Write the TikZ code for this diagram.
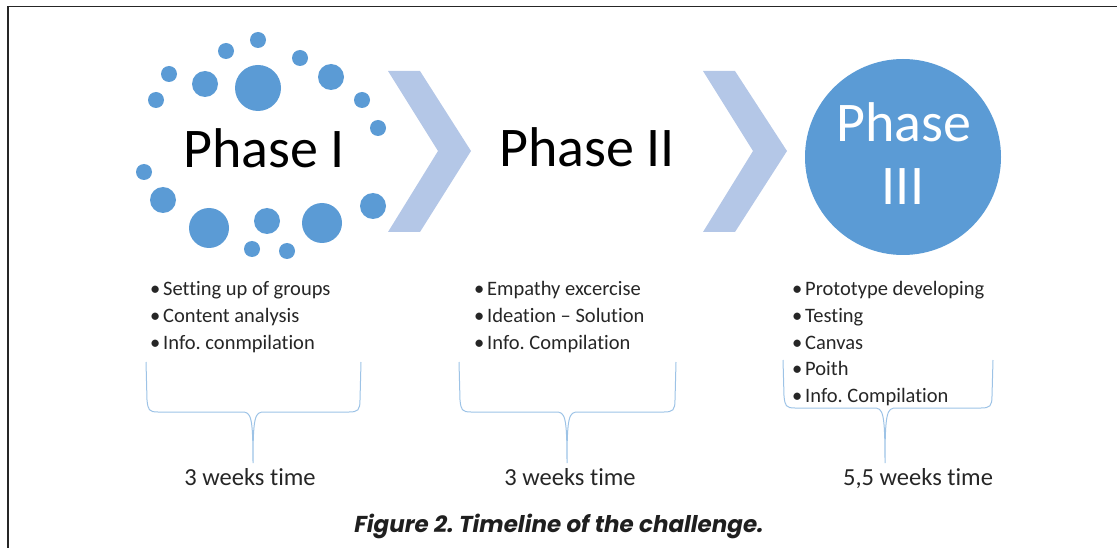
\documentclass[tikz,border=0pt]{standalone}
\usepackage{fontspec}
\setmainfont{Carlito}[Ligatures=NoCommon]
\newfontfamily\capfont{Poppins}
\frenchspacing
\definecolor{circblue}{HTML}{5B9BD5}
\definecolor{chevblue}{HTML}{B4C7E7}
\definecolor{braceblue}{HTML}{9DC3E6}
\tikzset{
  dot/.style={circle, fill=circblue, inner sep=0pt, outer sep=0pt},
  phasetxt/.style={font=\fontsize{56}{60}\selectfont, anchor=base, inner sep=0pt},
  bullettxt/.style={font=\fontsize{20.5}{24}\selectfont, anchor=base west, inner sep=0pt, text=black!85},
  weektxt/.style={font=\fontsize{24.5}{28}\selectfont, anchor=base, inner sep=0pt, text=black!85},
  chev/.style={fill=chevblue},
  bracepath/.style={draw=braceblue, line width=1pt},
}
\newcommand{\bl}[1]{\makebox[13pt][l]{•}#1}
\begin{document}
\begin{tikzpicture}[x=1pt,y=-1pt]
\useasboundingbox (0,0) rectangle (1117,548);
% frame
\draw[line width=1.3pt, black!85] (8,548) -- (8,6.5) -- (1117,6.5);
% Phase I dots
\foreach \x/\y/\r [count=\i] in {258/40/8, 226/51/8, 300/58/8, 169/74/8, 205/84/13, 258/88/23, 331/77/13, 156/100/8, 362/100/8, 378/128/8, 144/172/8, 163/200/13, 209/228/20, 267/221/13, 322/223/20, 373/206/13, 252/249/8, 287/251/8}
  \node[dot, minimum size=2*\r pt] (c\i) at (\x,\y) {};
\node[phasetxt] (p1) at (264,168) {Phase I};
% chevrons
\fill[chev] (388,71) -- (420,71) -- (471,151) -- (420,232) -- (388,232) -- (438,151) -- cycle;
\fill[chev] (703,71) -- (735,71) -- (787,151) -- (735,232) -- (703,232) -- (753,151) -- cycle;
% Phase II
\node[phasetxt] (p2) at (587,167) {Phase II};
% Phase III
\node[dot, minimum size=196pt] (p3) at (903,157) {};
\node[phasetxt, text=white] (p3a) at (904,142) {Phase};
\node[phasetxt, text=white] (p3b) at (903,205) {III};
% bullet lists
\node[bullettxt] (l1a) at (150,295) {\bl{Setting up of groups}};
\node[bullettxt] (l1b) at (150,322) {\bl{Content analysis}};
\node[bullettxt] (l1c) at (150,349) {\bl{Info. conmpilation}};
\node[bullettxt] (l2a) at (474,295) {\bl{Empathy excercise}};
\node[bullettxt] (l2b) at (474,322) {\bl{Ideation – Solution}};
\node[bullettxt] (l2c) at (474,349) {\bl{Info. Compilation}};
\node[bullettxt] (l3a) at (792,295) {\bl{Prototype developing}};
\node[bullettxt] (l3b) at (792,322) {\bl{Testing}};
\node[bullettxt] (l3c) at (792,349) {\bl{Canvas}};
\node[bullettxt] (l3d) at (792,375) {\bl{Poith}};
\node[bullettxt] (l3e) at (792,402) {\bl{Info. Compilation}};
% braces
\draw[bracepath] (146,362) -- (147,400) .. controls (148,410) and (149,412) .. (158,412) -- (242,412) .. controls (251,412) and (253,416) .. (253,463) .. controls (253,416) and (255,412) .. (264,412) -- (349,412) .. controls (358,412) and (360,410) .. (360,400) -- (361,362);
\draw[bracepath] (459,362) -- (460,400) .. controls (461,410) and (462,412) .. (471,412) -- (556,412) .. controls (565,412) and (567,416) .. (567,463) .. controls (567,416) and (569,412) .. (578,412) -- (664,412) .. controls (673,412) and (675,410) .. (675,400) -- (676,362);
\draw[bracepath] (783,360) -- (784,396) .. controls (785,406) and (786,408) .. (795,408) -- (874,408) .. controls (883,408) and (885,412) .. (885,463) .. controls (885,412) and (887,408) .. (896,408) -- (981,408) .. controls (990,408) and (992,406) .. (992,396) -- (993,360);
% durations
\node[weektxt] (w1) at (250,485) {3 weeks time};
\node[weektxt] (w2) at (570,485) {3 weeks time};
\node[weektxt] (w3) at (918,485) {5,5 weeks time};
% caption
\node[font=\capfont\bfseries\itshape\fontsize{23}{26}\selectfont, anchor=base, inner sep=0pt, text=black!88] (cap) at (559,532) {Figure 2. Timeline of the challenge.};
\end{tikzpicture}
\end{document}
